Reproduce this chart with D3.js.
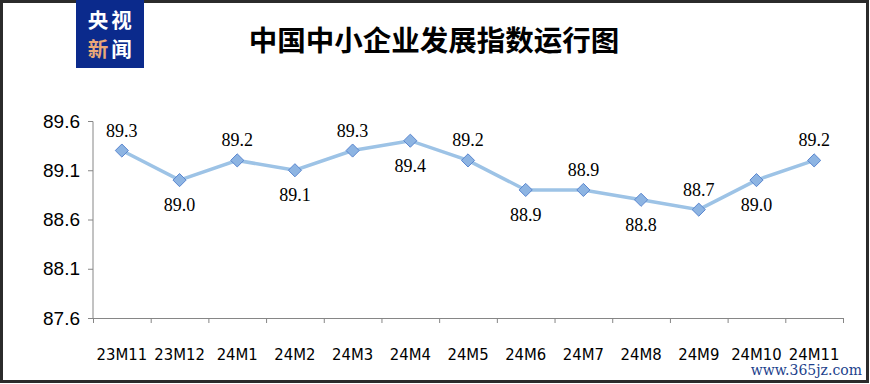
<!DOCTYPE html>
<html><head><meta charset="utf-8">
<script src="https://cdn.jsdelivr.net/npm/d3@7"></script>
<style>body{margin:0;background:#fff}svg{display:block}</style>
</head><body>
<svg id="c" width="870" height="384"></svg>
<script>
const categories = ["23M11","23M12","24M1","24M2","24M3","24M4","24M5","24M6","24M7","24M8","24M9","24M10","24M11"];
const values = [89.3,89.0,89.2,89.1,89.3,89.4,89.2,88.9,88.9,88.8,88.7,89.0,89.2];
const labelSide = ["above","below","above","below","above","below","above","below","above","below","above","below","above"];
const yTicks = [87.6,88.1,88.6,89.1,89.6];
const title = "中国中小企业发展指数运行图";
const logoChars = [["央","#fff"],["视","#fff"],["新","#e9a878"],["闻","#fff"]];

const svg = d3.select("#c");
// outer frame
svg.append("rect").attr("x",1.5).attr("y",1.5).attr("width",866).attr("height",380)
  .attr("fill","#fff").attr("stroke","#2b2b2b").attr("stroke-width",3);

// logo
const logo = svg.append("g");
logo.append("rect").attr("x",76).attr("y",0).attr("width",68).attr("height",68).attr("fill","#0b2a8c");
const lf = "'Noto Sans CJK SC', sans-serif";
logo.selectAll("text.lc").data(logoChars).join("text").attr("class","lc")
  .attr("x",(d,i)=> i%2===0 ? 98 : 121.5)
  .attr("y",(d,i)=> i<2 ? 27.5 : 57)
  .attr("text-anchor","middle").attr("font-family",lf)
  .attr("font-weight",700).attr("font-size",20.5).attr("fill",d=>d[1]).text(d=>d[0]);

// title
svg.append("text").attr("x",434).attr("y",51).attr("text-anchor","middle")
  .attr("font-family","'Noto Sans CJK SC', sans-serif").attr("font-weight",700).attr("font-size",28.5)
  .attr("fill","#000").text(title);

const x = d3.scaleBand().domain(categories).range([93,843]);
const y = d3.scaleLinear().domain([87.6,89.6]).range([318,121]);

// y axis
const ya = svg.append("g").attr("transform","translate(93,0)")
  .call(d3.axisLeft(y).tickValues(yTicks).tickFormat(d3.format(".1f")).tickSize(5).tickPadding(8));
ya.select(".domain").attr("stroke","#868686").attr("d","M-5,121.5H0V318.5");
ya.selectAll(".tick line").attr("stroke","#868686");
ya.selectAll(".tick text").attr("font-family","'Liberation Sans', Arial, sans-serif").attr("font-size",19).attr("fill","#000");

// x axis
const xa = svg.append("g").attr("transform","translate(0,318)")
  .call(d3.axisBottom(x).tickSize(0).tickPadding(30));
xa.select(".domain").attr("stroke","#868686").attr("d","M93,0.5H843");
xa.selectAll(".tick text").attr("font-family","'DejaVu Sans Condensed', 'DejaVu Sans', sans-serif").attr("font-size",16.5).attr("fill","#000");
svg.append("g").selectAll("line").data(categories.concat(["__end"])).join("line")
  .attr("x1",(d,i)=>93 + i*x.step()).attr("x2",(d,i)=>93 + i*x.step())
  .attr("y1",318).attr("y2",323).attr("stroke","#868686")
  .attr("transform","translate(0.5,0)");

const cx = d => x(d) + x.bandwidth()/2;
// line
svg.append("path").datum(values)
  .attr("d", d3.line().x((d,i)=>cx(categories[i])).y(d=>y(d)))
  .attr("fill","none").attr("stroke","#9dc3e6").attr("stroke-width",3.5);

// markers
svg.append("g").selectAll("path").data(values).join("path")
  .attr("d", d3.symbol().type(d3.symbolDiamond2 || d3.symbolDiamond).size(110))
  .attr("transform",(d,i)=>`translate(${cx(categories[i])},${y(d)})`)
  .attr("fill","#8db4e2").attr("stroke","#5a86cf").attr("stroke-width",1);

// data labels
svg.append("g").selectAll("text").data(values).join("text")
  .attr("x",(d,i)=>cx(categories[i]))
  .attr("y",(d,i)=>y(d) + (labelSide[i]==="above" ? -14 : 31))
  .attr("text-anchor","middle").attr("font-family","'Liberation Serif', 'Times New Roman', serif")
  .attr("font-size",18).attr("fill","#000").text(d=>d.toFixed(1));

// watermark
svg.append("text").attr("x",862).attr("y",375).attr("text-anchor","end")
  .attr("font-family","'DejaVu Serif', serif").attr("font-size",14).attr("fill","#1c3f8c")
  .text("www.365jz.com");
</script>
</body></html>
